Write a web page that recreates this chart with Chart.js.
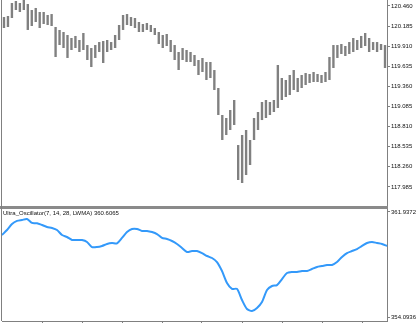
<!DOCTYPE html>
<html>
<head>
<meta charset="utf-8">
<script src="https://cdn.jsdelivr.net/npm/chart.js@4"></script>
<style>
  body { margin: 0; background: #fff; }
  #wrap { position: relative; width: 420px; height: 323px; overflow: hidden; }
  #top { position: absolute; left: 0; top: 0; }
  #bot { position: absolute; left: 0; top: 209px; }
  #sep { position: absolute; left: 0; top: 206px; width: 388px; height: 3px; background: #8a8a8a; }
  #edge { position: absolute; left: 1px; top: 0; width: 1px; height: 321px; background: #808080; }
  #oscName { position: absolute; left: 3px; top: 210px; font: 6px "Liberation Sans", Arial, sans-serif; color: #111; white-space: nowrap; }
</style>
</head>
<body>
<div id="wrap">
  <canvas id="top" width="420" height="206"></canvas>
  <div id="sep"></div>
  <canvas id="bot" width="420" height="114"></canvas>
  <div id="edge"></div>
  <div id="oscName">Ultra_Oscillator(7, 14, 28, LWMA) 360.6065</div>
</div>
<script>
// price bars (high / low per bar)
var barHigh = [120.309, 120.323, 120.501, 120.528, 120.501, 120.542, 120.487, 120.405, 120.433, 120.378,
  120.378, 120.337, 120.350, 120.173, 120.132, 120.104, 120.063, 120.022, 120.050, 119.995,
  120.091, 119.926, 119.885, 119.926, 119.967, 119.981, 119.995, 119.967, 120.063, 120.200,
  120.337, 120.350, 120.309, 120.296, 120.241, 120.214, 120.227, 120.200, 120.159, 120.104,
  120.063, 120.077, 119.995, 119.926, 119.831, 119.885, 119.858, 119.831, 119.790, 119.721,
  119.749, 119.694, 119.694, 119.584, 119.338, 118.969, 118.928, 119.037, 119.174, 118.558,
  118.695, 118.764, 118.627, 118.928, 119.010, 119.147, 119.174, 119.147, 119.174, 119.653,
  119.475, 119.448, 119.516, 119.584, 119.475, 119.516, 119.543, 119.530, 119.557, 119.530,
  119.516, 119.557, 119.762, 119.926, 119.926, 119.940, 119.913, 119.967, 120.022, 119.995,
  120.050, 120.091, 120.022, 119.967, 119.967, 119.940, 119.926];
var barLow = [120.159, 120.173, 120.296, 120.405, 120.378, 120.405, 120.132, 120.186, 120.241, 120.159,
  120.214, 120.200, 120.186, 119.762, 119.926, 119.885, 119.749, 119.858, 119.885, 119.831,
  119.858, 119.721, 119.625, 119.749, 119.831, 119.680, 119.831, 119.858, 119.885, 119.995,
  120.132, 120.200, 120.186, 120.159, 120.104, 120.104, 120.132, 120.104, 120.063, 119.940,
  119.885, 119.913, 119.831, 119.721, 119.584, 119.721, 119.694, 119.694, 119.639, 119.516,
  119.557, 119.448, 119.475, 119.311, 118.969, 118.627, 118.695, 118.764, 118.832, 118.080,
  118.039, 118.148, 118.285, 118.627, 118.764, 118.900, 118.928, 118.969, 119.010, 119.065,
  119.174, 119.215, 119.242, 119.311, 119.283, 119.338, 119.379, 119.407, 119.420, 119.420,
  119.407, 119.420, 119.448, 119.612, 119.749, 119.803, 119.776, 119.803, 119.831, 119.858,
  119.885, 119.913, 119.831, 119.858, 119.831, 119.858, 119.612];
var priceTicks = [120.460, 120.185, 119.910, 119.635, 119.360, 119.085, 118.810, 118.535, 118.260, 117.985];
var priceMin = 117.724, priceMax = 120.542;

// oscillator line
var oscValues = [360.22, 360.59, 361.04, 361.27, 361.34, 361.41, 361.12, 361.10, 360.97, 360.82,
  360.74, 360.59, 360.22, 360.07, 359.85, 359.85, 359.84, 359.70, 359.32, 359.32,
  359.40, 359.55, 359.62, 359.60, 360.00, 360.44, 360.67, 360.67, 360.52, 360.52,
  360.44, 360.29, 360.00, 359.92, 359.77, 359.55, 359.25, 358.95, 359.02, 359.02,
  358.87, 358.65, 358.50, 358.20, 357.53, 356.63, 356.19, 356.19, 355.36, 354.69,
  354.54, 354.77, 355.21, 356.11, 356.41, 356.48, 356.93, 357.38, 357.46, 357.46,
  357.53, 357.53, 357.68, 357.83, 357.90, 357.98, 357.98, 358.20, 358.58, 358.87,
  359.02, 359.17, 359.40, 359.62, 359.70, 359.62, 359.55, 359.40];
var oscTicks = [361.9372, 354.0936];
var oscMin = 353.795, oscMax = 362.161;

var axisGray = '#808080';
var labelFont = { family: 'Liberation Sans', size: 6 };

function rightAxis(min, max, ticks, digits) {
  return {
    position: 'right',
    min: min,
    max: max,
    afterBuildTicks: function (scale) {
      scale.ticks = ticks.map(function (v) { return { value: v }; });
    },
    afterFit: function (scale) {
      scale.width = 33;
      scale.paddingTop = 0;
      scale.paddingBottom = 0;
    },
    border: { display: true, color: axisGray, width: 1 },
    grid: { drawOnChartArea: false, drawTicks: true, tickLength: 3, color: axisGray },
    ticks: {
      padding: 1,
      color: '#111',
      font: labelFont,
      autoSkip: false,
      callback: function (v) { return Number(v).toFixed(digits); }
    }
  };
}

var barData = barHigh.map(function (h, i) { return [barLow[i], h]; });

new Chart(document.getElementById('top'), {
  type: 'bar',
  data: {
    labels: barHigh.map(function (_, i) { return i; }),
    datasets: [{
      data: barData,
      backgroundColor: '#808080',
      borderWidth: 0,
      barPercentage: 0.6,
      categoryPercentage: 1
    }]
  },
  options: {
    responsive: false,
    animation: false,
    devicePixelRatio: 1,
    layout: { padding: { left: 2, top: 0, right: 0, bottom: 0 } },
    plugins: { legend: { display: false }, tooltip: { enabled: false } },
    scales: {
      x: { display: false },
      y: rightAxis(priceMin, priceMax, priceTicks, 3)
    }
  }
});

new Chart(document.getElementById('bot'), {
  type: 'line',
  data: {
    labels: oscValues.map(function (_, i) { return i; }),
    datasets: [{
      data: oscValues,
      borderColor: '#3399fa',
      borderWidth: 2,
      pointRadius: 0,
      tension: 0.25
    }]
  },
  options: {
    responsive: false,
    animation: false,
    devicePixelRatio: 1,
    layout: { padding: { left: 2, top: 0, right: 0, bottom: 0 } },
    plugins: { legend: { display: false }, tooltip: { enabled: false } },
    scales: {
      x: {
        afterFit: function (scale) { scale.height = 2; },
        border: { display: true, color: axisGray, width: 1 },
        grid: {
          drawOnChartArea: false,
          drawTicks: true,
          tickLength: 2,
          color: function (ctx) { return ctx.index > 0 && ctx.index % 8 === 0 ? axisGray : 'rgba(0,0,0,0)'; }
        },
        ticks: { display: false, autoSkip: false }
      },
      y: rightAxis(oscMin, oscMax, oscTicks, 4)
    }
  }
});
</script>
</body>
</html>
